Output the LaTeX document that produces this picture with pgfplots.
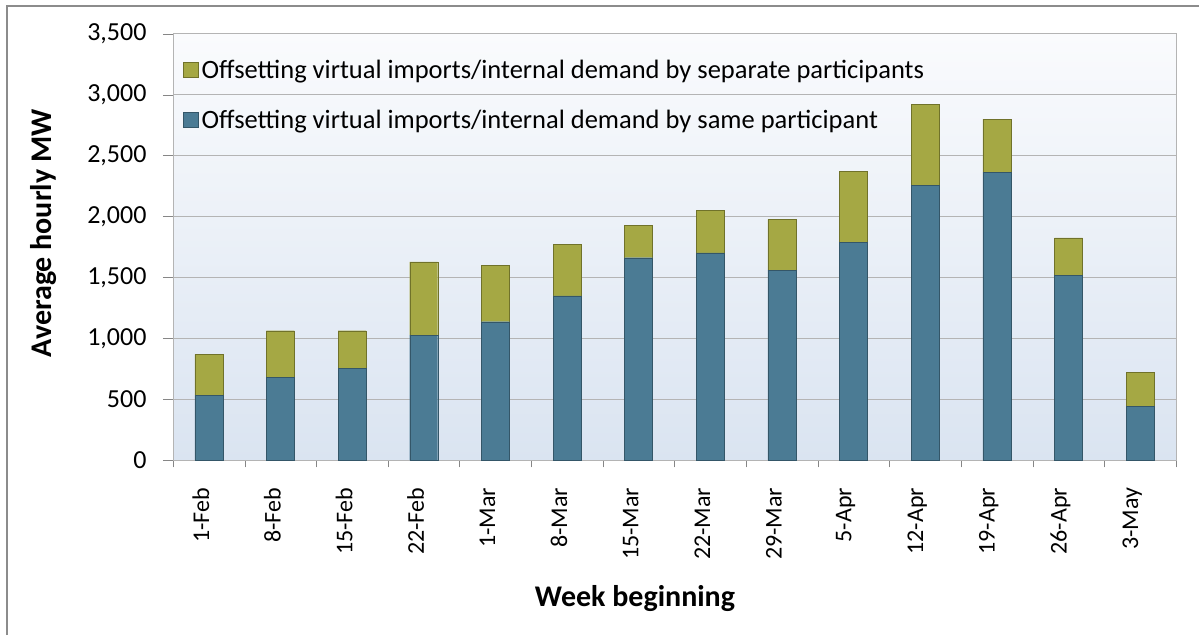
\documentclass[border=0pt]{standalone}
\usepackage{fontspec}
\setmainfont{Carlito}
\usepackage{pgfplots}
\usepackage{pgfplotstable}
\pgfplotsset{compat=1.18}
\definecolor{barblue}{RGB}{75,123,148}
\definecolor{barblueedge}{RGB}{52,86,104}
\definecolor{barolive}{RGB}{165,168,68}
\definecolor{baroliveedge}{RGB}{112,114,42}
\definecolor{framegray}{RGB}{140,140,140}
\definecolor{gridgray}{RGB}{180,180,180}
\definecolor{axisgray}{RGB}{134,134,134}
\definecolor{bgtop}{RGB}{250,251,253}
\definecolor{bgbottom}{RGB}{218,228,241}

\pgfplotstableread{
x same separate
0 533 337
1 683 380
2 752 311
3 1028 599
4 1137 465
5 1348 424
6 1662 263
7 1701 352
8 1561 416
9 1788 580
10 2256 667
11 2365 435
12 1515 309
13 440 284
}\datatable

\begin{document}
\begin{tikzpicture}
\useasboundingbox (0pt,0pt) rectangle (1199pt,635pt);
\draw[color=framegray, line width=2pt] (7pt,0pt) -- (7pt,629pt) -- (1199pt,629pt);
\begin{axis}[
  at={(173pt,174.7pt)}, anchor=south west,
  scale only axis, width=1003pt, height=426.6pt,
  xmin=-0.5, xmax=13.5, ymin=0, ymax=3500,
  ybar stacked, bar width=28pt,
  axis background/.style={shade, top color=bgtop, bottom color=bgbottom},
  axis line style={draw=gridgray},
  xtick={0,...,13},
  xticklabels={1-Feb,8-Feb,15-Feb,22-Feb,1-Mar,8-Mar,15-Mar,22-Mar,29-Mar,5-Apr,12-Apr,19-Apr,26-Apr,3-May},
  minor xtick={-0.5,0.5,...,13.5},
  major x tick style={draw=none},
  minor x tick style={draw=axisgray},
  minor tick length=7pt,
  ytick={0,500,...,3500},
  major tick length=10pt,
  major y tick style={draw=axisgray},
  tick align=outside,
  xtick pos=bottom, ytick pos=left,
  ymajorgrids, major grid style={draw=gridgray},
  /pgf/number format/.cd, 1000 sep={,}, assume math mode=true, /pgfplots/.cd,
  xticklabel style={rotate=90, anchor=east, font=\fontsize{24}{28}\selectfont, yshift=8pt, xshift=-14pt},
  yticklabel style={font=\fontsize{26}{30}\selectfont, xshift=-13pt},
  xlabel={Week beginning},
  ylabel={Average hourly MW},
  xlabel style={font=\bfseries\fontsize{30}{34}\selectfont, at={(axis description cs:0.4606,-0.323)}, anchor=center},
  ylabel style={font=\bfseries\fontsize{30}{34}\selectfont, at={(axis description cs:-0.1296,0.532)}, anchor=center},
  legend style={at={(rel axis cs:0.01,0.945)}, anchor=north west, draw=none, fill=none,
    font=\fontsize{26.5}{30}\selectfont, row sep=24pt, inner sep=0pt,
    nodes={inner sep=3pt}},
  legend cell align=left,
  reverse legend,
  legend image code/.code={\fill[#1] (0pt,-7pt) rectangle (15pt,8pt);},
]
\addplot[fill=barblue, draw=barblueedge] table[x=x, y=same] {\datatable};
\addplot[fill=barolive, draw=baroliveedge] table[x=x, y=separate] {\datatable};
\legend{Offsetting virtual imports/internal demand by same participant,
        Offsetting virtual imports/internal demand by separate participants}
\end{axis}
\end{tikzpicture}
\end{document}
